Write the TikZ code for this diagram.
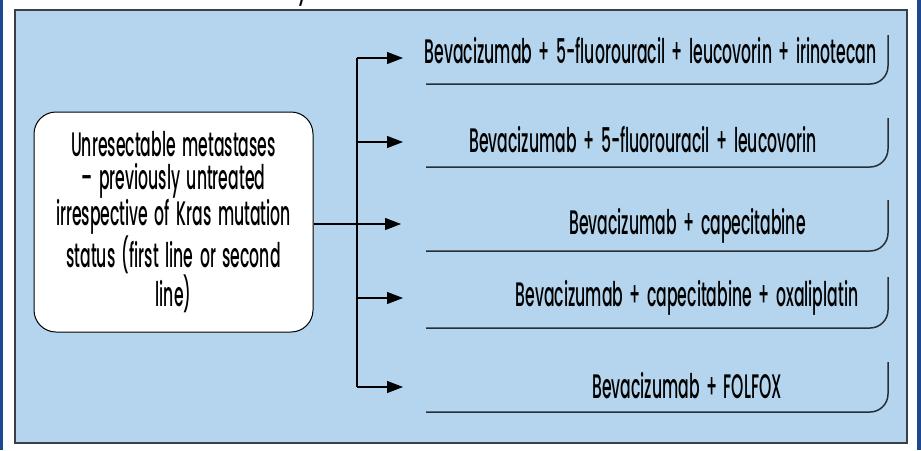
\documentclass[tikz,border=0pt]{standalone}
\usepackage{fontspec}
\setmainfont{Poppins}[UprightFont=* Medium, BoldFont=* Bold, ItalicFont=* Italic, BoldItalicFont=* Bold Italic, FakeStretch=0.46, WordSpace=1.6]
\usetikzlibrary{arrows.meta}
\definecolor{panel}{RGB}{180,213,237}
\definecolor{frameblue}{RGB}{28,72,145}
\definecolor{edge}{RGB}{58,64,72}
\definecolor{bline}{RGB}{40,46,54}
\tikzset{
  srcbox/.style={draw=black, fill=white, line width=1pt, rounded corners=22pt,
    minimum width=279pt, minimum height=220pt, inner sep=0pt, align=center,
    font=\fontsize{34}{32.5}\selectfont},
  treat/.style={anchor=base, inner sep=0pt, font=\fontsize{34}{32}\selectfont},
  openbox/.style={draw=bline, line width=1.5pt, rounded corners=18pt},
  conn/.style={draw=black, line width=1.2pt},
  arr/.style={conn, -{Triangle[length=16pt,width=12pt]}}
}
\begin{document}
\begin{tikzpicture}[x=1pt,y=-1pt]
\useasboundingbox (0,0) rectangle (921,450);
\fill[white] (0,0) rectangle (921,450);
\fill[frameblue] (0,0) rectangle (2.5,450);
\fill[frameblue] (917,0) rectangle (921,450);
\node[anchor=base, inner sep=0pt, font=\fontsize{26}{26}\selectfont\bfseries\itshape] (ttl) at (303,-1) {y};
\draw[edge, fill=panel, line width=1.5pt] (15,10) rectangle (907,443);
% source box
\node[srcbox] (src) at (173.5,222) {Unresectable metastases\\
– previously untreated\\
irrespective of Kras mutation\\
status (first line or second\\
line)};
% treatment texts
\node[treat] (t1) at (650.5,63) {Bevacizumab + 5-fluorouracil + leucovorin + irinotecan};
\node[treat] (t2) at (643,152) {Bevacizumab + 5-fluorouracil + leucovorin};
\node[treat] (t3) at (687.5,234) {Bevacizumab + capecitabine};
\node[treat] (t4) at (687,306) {Bevacizumab + capecitabine + oxaliplatin};
\node[treat] (t5) at (687,398) {Bevacizumab + FOLFOX};
% open boxes
\draw[openbox] (426,84) -- (888,84) -- (888,35);
\draw[openbox] (426,167) -- (888,167) -- (888,118);
\draw[openbox] (426,251) -- (888,251) -- (888,200);
\draw[openbox] (426,328) -- (888,328) -- (888,277);
\draw[openbox] (426,412) -- (888,412) -- (888,362);
% connectors
\coordinate (bt) at (357,58);
\coordinate (bb) at (357,387);
\coordinate (a1) at (403,58);
\coordinate (a2) at (403,142);
\coordinate (a3) at (401,224);
\coordinate (a4) at (403,298);
\coordinate (a5) at (403,387);
\draw[conn] (bt) -- (bb);
\draw[arr] (bt) -- (a1);
\draw[arr] (bt |- a2) -- (a2);
\draw[arr] (src.east |- a3) -- (a3);
\draw[arr] (bt |- a4) -- (a4);
\draw[arr] (bb) -- (a5);
\end{tikzpicture}
\end{document}
